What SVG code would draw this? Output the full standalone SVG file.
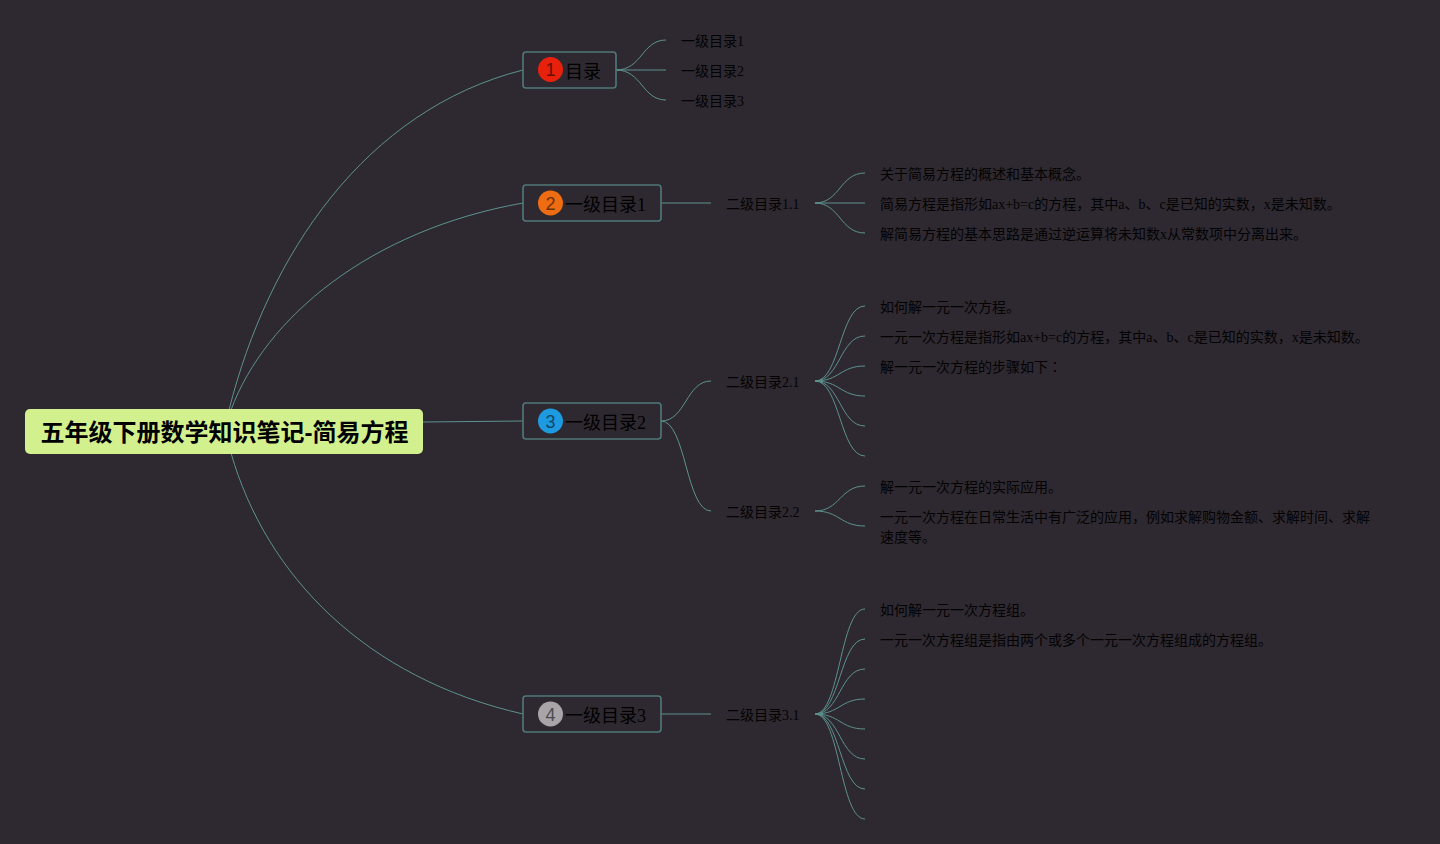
<svg xmlns="http://www.w3.org/2000/svg" width="1440" height="844" viewBox="0 0 1440 844">
<style>
text{font-family:"Liberation Serif","Noto Sans CJK SC",serif;fill:#000}
.l3{font-size:14px;opacity:.92}
.l1{font-size:18px}
.num{font-family:"Liberation Sans","Noto Sans CJK SC",sans-serif;font-size:18px;fill:#000;opacity:.55;text-anchor:middle}
.box{fill:#2e2931;stroke:#4f7878;stroke-width:1.6}
#connectors path{fill:none;stroke:#5d928e;stroke-width:1}
</style>
<rect width="1440" height="844" fill="#2e2931"/>
<g id="connectors">
<path d="M229 410C268 255 365 110 523 70"/>
<path d="M231 410C265 318 370 230 523 203"/>
<path d="M423 422L523 421"/>
<path d="M231 453C266 575 365 678 523 714"/>
<path d="M616 70C642 70 642 40 666 40"/>
<path d="M616 70H666"/>
<path d="M616 70C642 70 642 100 666 100"/>
<path d="M661 203H711"/>
<path d="M661 421C686 421 686 381 711 381"/>
<path d="M661 421C686 421 686 511 711 511"/>
<path d="M661 714H711"/>
<path d="M815 203C840 203 840 173 865 173"/>
<path d="M815 203H865"/>
<path d="M815 203C840 203 840 233 865 233"/>
<path d="M815 381C840 381 840 306 865 306"/>
<path d="M815 381C840 381 840 336 865 336"/>
<path d="M815 381C840 381 840 366 865 366"/>
<path d="M815 381C840 381 840 396 865 396"/>
<path d="M815 381C840 381 840 426 865 426"/>
<path d="M815 381C840 381 840 456 865 456"/>
<path d="M815 511C840 511 840 486 865 486"/>
<path d="M815 511C840 511 840 526 865 526"/>
<path d="M815 714C840 714 840 609 865 609"/>
<path d="M815 714C840 714 840 639 865 639"/>
<path d="M815 714C840 714 840 669 865 669"/>
<path d="M815 714C840 714 840 699 865 699"/>
<path d="M815 714C840 714 840 729 865 729"/>
<path d="M815 714C840 714 840 759 865 759"/>
<path d="M815 714C840 714 840 789 865 789"/>
<path d="M815 714C840 714 840 819 865 819"/>
</g>
<g id="root">
<rect x="25" y="409" width="398" height="45" rx="5" fill="#d3f08f"/>
<text x="40.500" y="441" font-size="24" font-weight="700" style="font-family:'Liberation Sans','Noto Sans CJK SC',sans-serif">五年级下册数学知识笔记-简易方程</text>
</g>
<g id="n1">
<rect class="box" x="523" y="52" width="93" height="36" rx="3"/>
<circle cx="550.500" cy="69.500" r="12.500" fill="#e8210c"/>
<text class="num" x="550.500" y="76">1</text>
<text class="l1" x="565" y="78">目录</text>
</g>
<g id="n2">
<rect class="box" x="523" y="185" width="138" height="36" rx="3"/>
<circle cx="550.500" cy="203" r="12.500" fill="#ee6c12"/>
<text class="num" x="550.500" y="209.500">2</text>
<text class="l1" x="565" y="211">一级目录1</text>
</g>
<g id="n3">
<rect class="box" x="523" y="403" width="138" height="36" rx="3"/>
<circle cx="550.500" cy="421" r="12.500" fill="#1d9ae0"/>
<text class="num" x="550.500" y="427.500">3</text>
<text class="l1" x="565" y="429">一级目录2</text>
</g>
<g id="n4">
<rect class="box" x="523" y="696" width="138" height="36" rx="3"/>
<circle cx="550.500" cy="714" r="12.500" fill="#a8a5a8"/>
<text class="num" x="550.500" y="720.500">4</text>
<text class="l1" x="565" y="722">一级目录3</text>
</g>
<g id="n1-1"><text class="l3" x="681" y="46">一级目录1</text></g>
<g id="n1-2"><text class="l3" x="681" y="76">一级目录2</text></g>
<g id="n1-3"><text class="l3" x="681" y="106">一级目录3</text></g>
<g id="n2-1"><text class="l3" x="726" y="209">二级目录1.1</text></g>
<g id="n3-1"><text class="l3" x="726" y="387">二级目录2.1</text></g>
<g id="n3-2"><text class="l3" x="726" y="517">二级目录2.2</text></g>
<g id="n4-1"><text class="l3" x="726" y="720">二级目录3.1</text></g>
<g id="t1"><text class="l3" x="880" y="179">关于简易方程的概述和基本概念。</text></g>
<g id="t2"><text class="l3" x="880" y="209">简易方程是指形如ax+b=c的方程，其中a、b、c是已知的实数，x是未知数。</text></g>
<g id="t3"><text class="l3" x="880" y="239">解简易方程的基本思路是通过逆运算将未知数x从常数项中分离出来。</text></g>
<g id="t4"><text class="l3" x="880" y="312">如何解一元一次方程。</text></g>
<g id="t5"><text class="l3" x="880" y="342">一元一次方程是指形如ax+b=c的方程，其中a、b、c是已知的实数，x是未知数。</text></g>
<g id="t6"><text class="l3" x="880" y="372">解一元一次方程的步骤如下<tspan style="font-family:'Noto Sans CJK TC',sans-serif">：</tspan></text></g>
<g id="t7"><text class="l3" x="880" y="492">解一元一次方程的实际应用。</text></g>
<g id="t8"><text class="l3" x="880" y="522">一元一次方程在日常生活中有广泛的应用，例如求解购物金额、求解时间、求解</text><text class="l3" x="880" y="542">速度等。</text></g>
<g id="t9"><text class="l3" x="880" y="615">如何解一元一次方程组。</text></g>
<g id="t10"><text class="l3" x="880" y="645">一元一次方程组是指由两个或多个一元一次方程组成的方程组。</text></g>
</svg>
